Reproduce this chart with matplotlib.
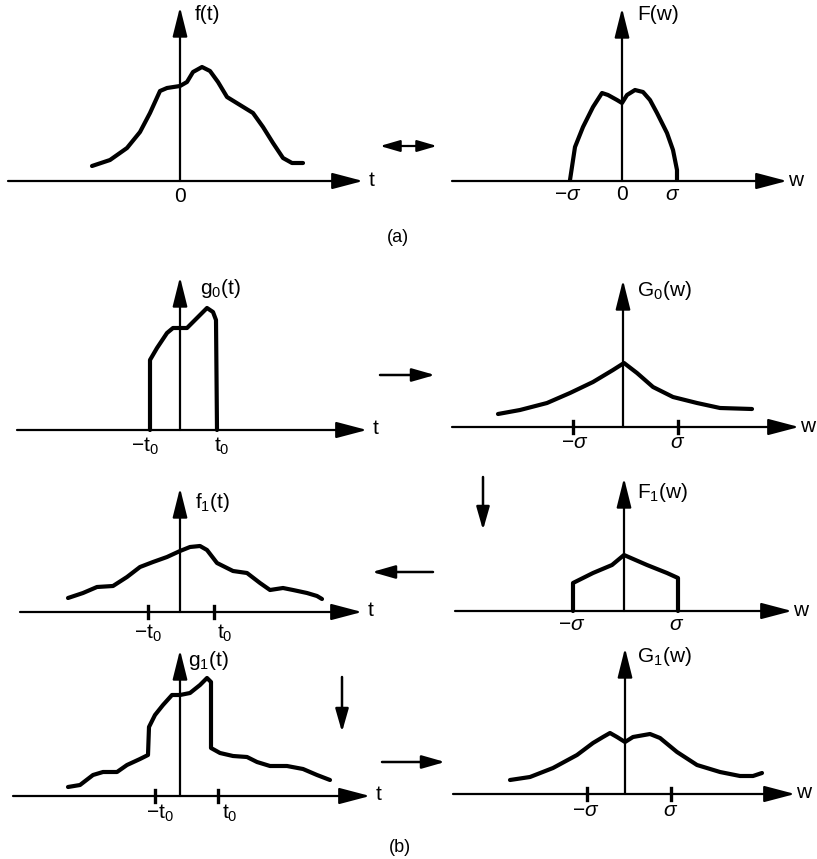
import matplotlib.pyplot as plt

# Hand-drawn curves: offset from each panel's origin
# (x to the right, h upward), in pixels
f_x = [-88, -70, -53, -40, -30, -20, -13, 0, 7, 13, 22, 30, 38, 47, 60, 73, 83, 93, 103, 112, 123]
f_h = [15, 21, 33, 49, 68, 90, 93, 95, 99, 109, 114, 110, 99, 84, 76, 68, 54, 38, 23, 18, 18]

F_x = [-52, -47, -39, -29, -20, -14, -5, 0, 5, 13, 21, 28, 35, 45, 51, 55, 55]
F_h = [1, 34, 54, 74, 88, 86, 81, 78, 86, 91, 89, 81, 68, 48, 31, 11, 1]

g0_x = [-30, -30, -23, -13, -7, 0, 7, 17, 27, 33, 36, 37]
g0_h = [0, 70, 82, 97, 102, 102, 102, 112, 122, 118, 110, 0]

G0_x = [-125, -103, -76, -53, -30, -10, 1, 14, 30, 50, 74, 97, 129]
G0_h = [13, 17, 24, 34, 45, 57, 64, 54, 40, 30, 24, 19, 18]

f1_x = [-112, -97, -83, -67, -53, -40, -27, -13, 0, 10, 20, 27, 37, 53, 67, 80, 90, 103, 113, 127, 137, 142]
f1_h = [14, 19, 25, 26, 35, 45, 50, 55, 61, 65, 66, 62, 49, 41, 39, 29, 22, 24, 22, 19, 16, 13]

F1_x = [-51, -51, -31, -12, 0, 23, 43, 54, 54]
F1_h = [0, 28, 38, 46, 56, 46, 38, 33, 0]

g1_x = [-112, -100, -87, -77, -63, -53, -40, -32, -31, -25, -17, -8, 0, 10, 20, 27, 31, 31,
        40, 53, 67, 77, 90, 107, 123, 137, 150]
g1_h = [9, 11, 21, 24, 24, 31, 37, 41, 69, 81, 91, 101, 101, 103, 111, 118, 114, 48,
        43, 40, 39, 34, 30, 30, 27, 21, 16]

G1_x = [-115, -95, -72, -48, -32, -22, -15, -8, 0, 8, 25, 35, 52, 72, 95, 115, 128, 137]
G1_h = [14, 17, 26, 39, 51, 57, 61, 57, 52, 57, 60, 56, 42, 29, 22, 18, 18, 21]

# panel names, curves and labels
names = ['f', 'F', 'g0', 'G0', 'f1', 'F1', 'g1', 'G1']
curves = {'f': (f_x, f_h), 'F': (F_x, F_h), 'g0': (g0_x, g0_h), 'G0': (G0_x, G0_h),
          'f1': (f1_x, f1_h), 'F1': (F1_x, F1_h), 'g1': (g1_x, g1_h), 'G1': (G1_x, G1_h)}
func_labels = {'f': 'f(t)', 'F': 'F(w)', 'g0': r'g$_0$(t)', 'G0': r'G$_0$(w)',
               'f1': r'f$_1$(t)', 'F1': r'F$_1$(w)', 'g1': r'g$_1$(t)', 'G1': r'G$_1$(w)'}
var_labels = {'f': 't', 'F': 'w', 'g0': 't', 'G0': 'w', 'f1': 't', 'F1': 'w', 'g1': 't', 'G1': 'w'}
tick_labels = {
    'f': [(0, '0')],
    'F': [(-54, r'$-\sigma$'), (0, '0'), (51, r'$\sigma$')],
    'g0': [(-35, r'$-$t$_0$'), (42, r't$_0$')],
    'G0': [(-48, r'$-\sigma$'), (55, r'$\sigma$')],
    'f1': [(-32, r'$-$t$_0$'), (45, r't$_0$')],
    'F1': [(-52, r'$-\sigma$'), (53, r'$\sigma$')],
    'g1': [(-20, r'$-$t$_0$'), (50, r't$_0$')],
    'G1': [(-39, r'$-\sigma$'), (46, r'$\sigma$')],
}
tick_marks = {'G0': [-50, 55], 'f1': [-32, 34], 'g1': [-25, 38], 'G1': [-38, 46]}

# layout in pixels: origin, left end of axis, arrow tip of axis, top of y-axis
layout = {
    'f':  dict(o=(180, 181), x0=8,   x1=363, ytop=7,   lab_dy=15),
    'F':  dict(o=(622, 181), x0=452, x1=787, ytop=8,   lab_dy=14),
    'g0': dict(o=(180, 430), x0=17,  x1=367, ytop=277, lab_dy=16),
    'G0': dict(o=(623, 427), x0=452, x1=799, ytop=280, lab_dy=16),
    'f1': dict(o=(180, 612), x0=20,  x1=362, ytop=488, lab_dy=21),
    'F1': dict(o=(624, 611), x0=455, x1=792, ytop=478, lab_dy=14),
    'g1': dict(o=(180, 796), x0=13,  x1=370, ytop=650, lab_dy=17),
    'G1': dict(o=(625, 794), x0=453, x1=795, ytop=648, lab_dy=17),
}
label_pos = {'f': (195, 15), 'F': (637, 15), 'g0': (200, 288), 'G0': (637, 290),
             'f1': (195, 502), 'F1': (637, 492), 'g1': (188, 660), 'G1': (637, 657)}

# arrows between panels: (start, end)
link_arrows = [((380, 375), (435, 375)), ((433, 572), (372, 572)),
               ((483, 477), (483, 530)), ((342, 677), (342, 732)),
               ((382, 762), (445, 762))]

plt.rcParams['font.family'] = ['Liberation Sans', 'DejaVu Sans']
plt.rcParams['mathtext.fontset'] = 'custom'
plt.rcParams['mathtext.rm'] = 'Liberation Sans'
plt.rcParams['mathtext.it'] = 'Liberation Sans:italic'

fig = plt.figure(figsize=(8.17, 8.59), dpi=100)
ax = fig.add_axes([0, 0, 1, 1])
ax.set_xlim(0, 817)
ax.set_ylim(859, 0)
ax.axis('off')


def arrow(p0, p1, hl=18, hw=4.5, lw=1.6):
    ax.annotate('', xy=p1, xytext=p0,
                arrowprops=dict(arrowstyle=f'-|>,head_length={hl},head_width={hw}',
                                mutation_scale=1, lw=lw, color='k',
                                shrinkA=0, shrinkB=0))


for name in names:
    L = layout[name]
    ox, oy = L['o']
    # axes
    arrow((L['x0'], oy), (L['x1'], oy), hl=19, hw=5)
    arrow((ox, oy), (ox, L['ytop']), hl=18, hw=4.5)
    ax.text(L['x1'] + 9, oy - 1, var_labels[name], fontsize=15, ha='center', va='center')
    lx, ly = label_pos[name]
    ax.text(lx, ly, func_labels[name], fontsize=15, ha='left', va='center')
    # curve
    xs, hs = curves[name]
    ax.plot([ox + x for x in xs], [oy - h for h in hs], color='k', lw=3,
            solid_capstyle='round', solid_joinstyle='round')
    for tx in tick_marks.get(name, []):
        ax.plot([ox + tx, ox + tx], [oy - 6, oy + 6], color='k', lw=2.4)
    for tx, s in tick_labels[name]:
        ax.text(ox + tx, oy + L['lab_dy'], s, fontsize=15, ha='center', va='center')

# (a) double arrow
arrow((408, 146), (380, 146), hl=12, hw=3.5, lw=1.6)
arrow((408, 146), (437, 146), hl=12, hw=3.5, lw=1.6)
for p0, p1 in link_arrows:
    arrow(p0, p1, hl=14, hw=4, lw=1.8)

ax.text(398, 238, '(a)', fontsize=13, ha='center', va='center')
ax.text(400, 847, '(b)', fontsize=13, ha='center', va='center')

fig.savefig('out.png', dpi=100)
